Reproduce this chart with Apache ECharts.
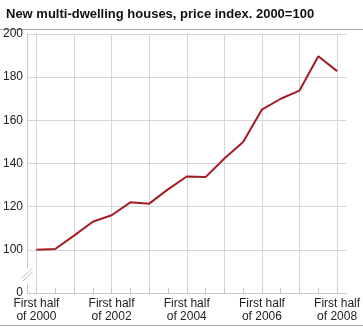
<!DOCTYPE html>
<html>
<head>
<meta charset="utf-8">
<script src="https://cdn.jsdelivr.net/npm/echarts@6/dist/echarts.min.js"></script>
<style>
html,body{margin:0;padding:0;background:#fff;}
#c{width:363px;height:327px;}
</style>
</head>
<body>
<div id="c"></div>
<script>
const titleText = 'New multi-dwelling houses, price index. 2000=100';
const periods = ['2000H1','2000H2','2001H1','2001H2','2002H1','2002H2','2003H1','2003H2',
  '2004H1','2004H2','2005H1','2005H2','2006H1','2006H2','2007H1','2007H2','2008H1'];
const tickLabels = {
  '2000H1':'First half\nof 2000','2002H1':'First half\nof 2002','2004H1':'First half\nof 2004',
  '2006H1':'First half\nof 2006','2008H1':'First half\nof 2008'
};
const priceIndex = [100, 100.4, 106.6, 113, 116, 122, 121.4, 128, 134, 133.7, 142.3, 150, 165, 170, 173.8, 189.7, 182.8];
const yMin = 80, yMax = 200, yStep = 20;

const FONT = '"Liberation Sans", Arial, sans-serif';
const GRID = '#d6d6d6';
const chart = echarts.init(document.getElementById('c'), null, {renderer:'canvas'});

chart.setOption({
  animation: false,
  backgroundColor: '#fff',
  title: {
    text: titleText, left: 1, top: 3,
    textStyle: {fontFamily: FONT, fontSize: 13, fontWeight: 'bold', color: '#111'}
  },
  grid: {left: 25, right: 15, top: 34, bottom: 34, containLabel: false},
  xAxis: {
    type: 'category', data: periods, boundaryGap: true,
    axisLine: {show: true, lineStyle: {color: '#c8c8c8', width: 1}},
    axisTick: {show: true, inside: true, length: 5, alignWithLabel: true, interval: 0,
      lineStyle: {color: '#c8c8c8'}},
    splitLine: {show: true, alignWithLabel: true, interval: (i) => i % 2 === 0,
      lineStyle: {color: GRID, width: 1}},
    axisLabel: {
      interval: 0, margin: 4, color: '#222', fontFamily: FONT, fontSize: 12, lineHeight: 13,
      formatter: (v) => tickLabels[v] || ''
    }
  },
  yAxis: {
    type: 'value', min: yMin, max: yMax, interval: yStep,
    axisLine: {show: true, lineStyle: {color: '#c8c8c8', width: 1}},
    axisTick: {show: false},
    splitLine: {show: true, lineStyle: {color: GRID, width: 1}},
    axisLabel: {margin: 4, color: '#222', fontFamily: FONT, fontSize: 12,
      formatter: (v) => v === yMin ? '0' : String(v)}
  },
  series: [{
    type: 'line', data: priceIndex, symbol: 'none', smooth: false,
    lineStyle: {color: '#a21d23', width: 2}, z: 5
  }]
});

function drawDecor() {
  const x0 = chart.convertToPixel({xAxisIndex: 0}, periods[0]) - 9.5;
  const yTopGap = chart.convertToPixel({yAxisIndex: 0}, 91.5);
  const yBotGap = chart.convertToPixel({yAxisIndex: 0}, 84.5);
  const yMid = (yTopGap + yBotGap) / 2;
  const W = chart.getWidth(), H = chart.getHeight();
  chart.setOption({
    graphic: [
      {type: 'line', shape: {x1: 0, y1: 29.5, x2: W, y2: 29.5}, style: {stroke: '#a8a8a8', lineWidth: 1}},
      {type: 'line', shape: {x1: 0, y1: H - 1.5, x2: W, y2: H - 1.5}, style: {stroke: '#a8a8a8', lineWidth: 1}},
      {type: 'rect', shape: {x: x0 - 3, y: yTopGap, width: 6, height: yBotGap - yTopGap}, style: {fill: '#fff'}, z: 10},
      {type: 'line', shape: {x1: x0 - 6, y1: yMid + 3, x2: x0 + 5, y2: yMid - 7}, style: {stroke: '#c0c0c0', lineWidth: 1}, z: 11},
      {type: 'line', shape: {x1: x0 - 5, y1: yMid + 6, x2: x0 + 6, y2: yMid - 4}, style: {stroke: '#c0c0c0', lineWidth: 1}, z: 11}
    ]
  });
}
drawDecor();
</script>
</body>
</html>
